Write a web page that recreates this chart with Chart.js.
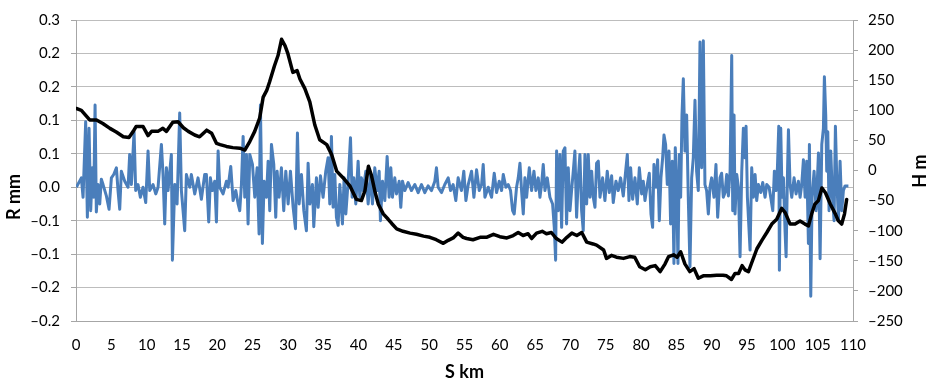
<!DOCTYPE html>
<html>
<head>
<meta charset="utf-8">
<script src="https://cdn.jsdelivr.net/npm/chart.js@4.4.1/dist/chart.umd.min.js"></script>
<style>
    html, body { margin: 0; padding: 0; background: #fff; }
    #wrap { width: 932px; height: 386px; }
</style>
</head>
<body>
<div id="wrap"><canvas id="chart" width="932" height="386"></canvas></div>
<script>
// R mm (blue)
var rKm = [
    0.05, 0.76, 1.00, 1.37, 1.61, 1.85, 2.08, 2.32, 2.51, 2.70, 2.88, 3.12, 3.36, 3.59, 3.83, 4.30, 4.68, 5.01, 5.34, 5.72,
    5.95, 6.19, 6.42, 6.90, 7.37, 7.60, 7.84, 8.22, 8.45, 8.78, 9.11, 9.49, 9.87, 10.20, 10.44, 10.91, 11.29, 11.62, 12.09, 12.32,
    12.56, 12.80, 13.03, 13.50, 13.65, 13.98, 14.31, 14.68, 14.92, 15.39, 15.63, 16.10, 16.33, 16.81, 17.28, 17.75, 18.22,
    18.46, 18.79, 19.03, 19.31, 19.64, 19.88, 20.12, 20.35, 20.82, 21.30, 21.53, 21.91, 22.24, 22.62, 22.95, 23.18, 23.42, 23.66,
    23.89, 24.13, 24.36, 24.60, 24.98, 25.31, 25.64, 25.92, 26.11, 26.39, 26.63, 26.96, 27.20, 27.43, 27.67, 28.00, 28.28, 28.47,
    28.75, 29.08, 29.41, 29.70, 30.03, 30.36, 30.74, 31.07, 31.35, 31.59, 31.92, 32.25, 32.62, 32.86, 33.10, 33.47, 33.66, 34.04,
    34.28, 34.61, 34.98, 35.36, 35.69, 35.93, 36.16, 36.40,
    36.64, 36.87, 37.11, 37.35, 37.72, 37.96, 38.20, 38.53, 38.86, 39.09, 39.33, 39.61, 39.94, 40.18, 40.41, 40.65, 41.03, 41.36,
    41.69, 41.97, 42.30, 42.63, 42.92, 43.10, 43.39, 43.72, 44.05, 44.33, 44.57, 44.80, 45.13, 45.37, 45.75, 45.98, 46.22, 46.55,
    47.02, 47.49, 47.97, 48.44, 48.91, 49.38, 49.85, 50.33, 50.80, 51.03, 51.27, 51.74, 52.21, 52.69, 53.02, 53.39, 53.77, 54.10,
    54.57, 54.90,
    55.20, 55.53, 56.00, 56.33, 56.71, 57.09, 57.42, 57.65, 57.89, 58.36, 58.83, 59.21, 59.54, 59.92, 60.25, 60.49, 60.86, 61.19,
    61.52, 61.81, 62.04, 62.37, 62.61, 62.85, 63.08, 63.32, 63.55, 63.79, 64.17, 64.50, 64.83, 65.11, 65.44, 65.68, 65.91, 66.15,
    66.39, 66.72, 67.09, 67.47, 67.71, 67.90, 68.04, 68.27, 68.51, 68.75, 68.98, 69.22, 69.45, 69.69, 69.93, 70.16, 70.40, 70.63,
    70.87, 71.11, 71.34, 71.58, 71.81, 72.05, 72.29, 72.52, 72.76, 73.00, 73.23,
    73.47, 73.70, 73.94, 74.18, 74.55, 74.88, 75.21, 75.50, 75.83, 76.06, 76.44, 76.77, 77.10, 77.48, 77.86, 78.05, 78.28, 78.52,
    78.80, 79.13, 79.46, 79.75, 80.08, 80.31, 80.55, 80.88, 81.16, 81.40, 81.63, 81.82, 82.11, 82.34, 82.58, 82.81, 83.05, 83.24,
    83.47, 83.71, 83.95, 84.18, 84.42, 84.65, 84.84, 85.03, 85.22, 85.41, 85.60, 85.79, 85.98, 86.21, 86.45, 86.68, 86.92, 87.16,
    87.39, 87.63, 87.86, 88.10, 88.34, 88.57, 88.81, 89.04, 89.28, 89.52, 89.75, 89.99, 90.32, 90.60, 90.84, 91.17, 91.40, 91.64,
    91.89, 92.12, 92.36, 92.60, 92.83, 92.97, 93.16, 93.30, 93.54, 93.78, 94.01, 94.25, 94.48, 94.72, 94.86, 95.05, 95.24, 95.43,
    95.66, 95.90, 96.14, 96.37, 96.61, 96.94, 97.22, 97.55, 97.79, 98.12, 98.35, 98.64, 98.87, 99.11, 99.30, 99.49, 99.58, 99.77,
    99.96, 100.15, 100.38, 100.53, 100.71, 100.86, 101.09, 101.33, 101.66, 101.94, 102.27, 102.51, 102.74, 102.98, 103.22, 103.45,
    103.69, 103.83, 104.02, 104.21, 104.49, 104.78, 105.11, 105.34, 105.58, 105.81, 105.95, 106.14, 106.28, 106.43, 106.61, 106.85,
    107.09, 107.32, 107.51, 107.70, 107.94, 108.17, 108.41, 108.64, 108.88, 109.35
];
var rVal = [
    0, 0.014, -0.015, 0.098, -0.045, 0.088, -0.035, 0.029, -0.015, 0.123, -0.037, 0.004, -0.025, 0.012, 0.004, -0.013, -0.033, 0.014, 0.019, 0.029,
    -0.005, -0.033, 0.024, 0.009, 0, 0.049, 0.004, 0.083, -0.005, 0.004, -0.015, 0, -0.023, 0.054, -0.005, 0.004, -0.010, 0, 0.064, 0.019,
    -0.055, 0.029, -0.005, 0.049, -0.109, 0.004, -0.025, 0.111, -0.005, -0.065, 0.019, 0, 0.019, -0.010, 0.014, -0.018, 0.019,
    0.019, -0.052, 0.014, -0.005, 0.009, -0.052, 0.054, 0, -0.010, 0.009, 0, 0.031, -0.020, -0.005, -0.025, -0.035, 0.004, 0.076,
    -0.015, 0.049, -0.055, 0.049, 0.034, -0.015, 0.029, -0.070, 0.123, -0.084, 0.009, -0.015, 0.039, -0.035, 0.064, 0.034, -0.045, 0.024,
    -0.015, 0.029, -0.035, 0.024, -0.025, 0.024, -0.030, -0.062, 0.081, -0.025, 0.019, -0.035, -0.065, 0.036, -0.025, 0.004, -0.059, 0.014,
    -0.030, 0.017, -0.015, 0.024, 0.044, -0.025, 0.076, -0.030,
    0.019, -0.045, -0.057, 0.004, -0.055, 0.014, -0.040, 0.009, 0.074, -0.015, 0.014, -0.025, 0.039, -0.015, 0.014, -0.005, 0.024, -0.025,
    0.019, -0.025, 0.029, -0.005, 0.024, -0.050, 0.009, -0.020, 0.046, -0.015, 0.029, -0.015, 0.014, -0.010, 0.009, -0.030, 0.009, -0.005,
    0.007, -0.005, 0.004, -0.008, 0.004, -0.008, 0.002, -0.005, 0.009, 0.029, 0, -0.008, 0.004, 0.014, -0.005, 0.004, -0.020, 0.014,
    -0.005, 0.024,
    -0.020, 0.004, 0.024, -0.015, 0.026, -0.005, 0.004, 0.034, -0.015, 0, -0.015, 0.021, -0.008, 0.009, -0.005, 0.019, 0, 0.004,
    -0.005, -0.035, -0.040, 0, 0.014, 0.036, -0.005, -0.040, 0.014, -0.015, 0.029, -0.005, 0.024, -0.005, 0.014, -0.015, 0.004, 0.034,
    -0.005, 0.014, -0.015, -0.025, -0.060, -0.109, 0.054, -0.035, 0.049, -0.060, 0.054, 0.059, -0.055, 0.029, -0.035, -0.005, 0.024, 0.054,
    -0.045, 0.014, 0.049, -0.035, -0.065, 0.049, -0.025, 0.049, -0.015, 0.024, -0.015,
    -0.030, 0.036, 0.039, -0.015, 0.014, -0.020, 0.024, -0.008, 0.017, -0.023, 0.009, -0.005, 0.014, -0.013, 0.029, 0.049, -0.020, 0.029,
    -0.018, 0.014, -0.025, 0.029, -0.010, 0.009, -0.020, 0.004, 0.021, -0.040, -0.060, 0.034, 0, 0.041, -0.050, 0.014, 0.044, 0.078,
    0.064, 0.004, 0.054, -0.055, 0.039, -0.114, 0.059, 0.004, -0.114, 0.049, -0.015, 0.108, 0.162, 0.054, 0.108, -0.015, -0.119, 0.014,
    0.044, 0.130, 0.024, -0.005, 0.217, 0.029, 0.219, 0.004, -0.005, -0.040, 0, 0.014, -0.015, 0.034, -0.045, 0.014, 0.021, -0.015,
    -0.008, 0.019, -0.013, 0.024, 0.197, -0.035, 0.108, -0.040, 0.019, 0, -0.104, 0.024, 0.088, 0.044, 0.091, -0.015, -0.055, -0.094,
    0.029, -0.015, 0.019, -0.020, 0.004, -0.008, 0.007, -0.015, 0.004, 0, -0.015, -0.035, 0.024, -0.005, 0.029, 0.091, -0.124, 0.088,
    -0.015, 0.014, -0.065, -0.104, 0.014, 0.086, 0.004, -0.015, 0.014, -0.010, 0.009, -0.015, 0.004, 0.041, -0.015, 0.039,
    -0.084, 0.064, -0.163, -0.015, 0.024, -0.035, 0.051, -0.107, 0.064, 0.088, 0.165, 0.108, 0.024, 0.083, -0.035, 0.054,
    -0.015, -0.050, 0.091, 0.014, -0.050, 0.039, -0.035, -0.005, 0.002, 0.002
];

// H m (black)
var hKm = [
    0.05, 0.76, 1.94, 2.9, 3.8, 4.8, 5.7, 6.7, 7.5, 8.1, 8.5, 9.5, 10.2, 10.7, 11.6, 12.3, 12.8, 13.7, 14.45, 15.2, 15.9, 16.8, 17.5,
    18.5, 19.2, 19.9, 20.4, 21.3, 22.2, 23.2, 23.9, 24.6, 25.3, 26.0, 26.5, 27.0, 27.4, 28.1, 28.6, 29.1, 29.6, 30.0, 30.7, 31.3,
    31.7, 32.4, 33.1, 33.8, 34.5, 35.5, 36.2, 36.9, 37.8, 38.8, 39.7, 40.4, 40.9, 41.4, 41.8, 42.3, 42.8, 43.5, 44.2, 44.7, 45.4,
    46.3, 47.3, 48.2, 49.2, 50.1, 51.0, 52.0, 52.7, 53.4, 54.1, 54.8, 55.3, 56.2, 57.2, 58.1, 59.1, 60.0, 61.0, 61.9, 62.6, 63.3,
    64.0, 64.5, 65.2, 66.0, 66.6, 67.3, 68.0, 68.8, 69.5, 70.2, 70.9, 71.6, 72.3, 73.2, 73.7, 74.7, 75.1, 75.8, 76.5, 77.5, 78.4,
    79.1, 79.8, 80.6, 81.3, 82.0, 82.7, 83.4, 83.9, 84.6, 85.1, 85.6, 86.2, 86.9, 87.5, 88.1, 88.8, 89.8, 90.7, 91.6, 92.1, 92.8,
    93.3, 93.8, 94.3, 94.7, 95.2, 95.7, 96.4, 97.1, 97.8, 98.5, 99.2, 99.9, 100.4, 101.1, 101.8, 102.5, 103.2, 103.7, 104.2, 104.6,
    105.1, 105.6, 106.1, 106.8, 107.5, 107.9, 108.4, 108.8, 109.1
];
var hVal = [
    103, 100, 84, 84, 78, 70, 64, 56, 55, 65, 73, 73, 58, 65, 65, 70, 65, 80, 81, 71, 65, 59, 56,
    67, 62, 45, 43, 40, 38, 37, 34, 48, 65, 87, 122, 133, 147, 174, 191, 218, 207, 194, 163, 166,
    152, 136, 114, 76, 51, 43, 26, -1, -12, -26, -48, -50, -34, 7, -7, -34, -56, -72, -81, -88, -97,
    -101, -104, -106, -109, -111, -115, -121, -116, -112, -104, -111, -113, -115, -111, -111, -106, -110, -112, -108, -103, -108,
    -105, -113, -104, -101, -105, -103, -113, -119, -111, -104, -108, -103, -119, -122, -124, -132, -146, -141, -144, -146, -143,
    -144, -160, -165, -160, -158, -168, -155, -143, -140, -144, -135, -155, -168, -163, -179, -175, -175, -174, -174, -175, -181,
    -171, -171, -158, -165, -168, -152, -130, -116, -103, -89, -81, -63, -70, -89, -89, -84, -89, -92, -70, -56,
    -50, -29, -37, -56, -72, -83, -89, -72, -48
];

// axes
var sRange = [0, 110, 5];
var rRange = [-0.2, 0.25, 0.05];
var hRange = [-250, 250, 50];

var DASH = '\u2013';

function toPoints(xs, ys) {
    return xs.map(function(x, i) { return {x: x, y: ys[i]}; });
}

function formatR(v) {
    var a = Math.round(Math.abs(v) * 10 + 1e-7) / 10;
    if (a === 0) {
        return '0.0';
    }
    return (v < 0 ? DASH : '') + a.toFixed(1);
}

function formatH(v) {
    return v < 0 ? DASH + Math.abs(v) : String(v);
}

// rotated titles, both reading bottom to top like the original
var sideTitles = {
    id: 'sideTitles',
    afterDraw: function(chart) {
        var ctx = chart.ctx;
        [['R mm', 14, 197], ['H m', 920, 171]].forEach(function(t) {
            ctx.save();
            ctx.font = 'bold 18px Lato';
            ctx.fillStyle = '#000';
            ctx.textAlign = 'center';
            ctx.textBaseline = 'middle';
            ctx.translate(t[1], t[2]);
            ctx.rotate(-Math.PI / 2);
            ctx.fillText(t[0], 0, 0);
            ctx.restore();
        });
    }
};

var gridColor = '#bdbdbd';
var axisColor = '#a6a6a6';

Chart.defaults.font.family = 'Lato';
Chart.defaults.font.size = 15;
Chart.defaults.color = '#000';

new Chart(document.getElementById('chart').getContext('2d'), {
    type: 'line',
    data: {
        datasets: [{
            label: 'H m',
            data: toPoints(hKm, hVal),
            yAxisID: 'y2',
            borderColor: '#000',
            borderWidth: 3.5,
            pointRadius: 0,
            tension: 0,
            borderJoinStyle: 'round',
            borderCapStyle: 'round',
            order: 1
        }, {
            label: 'R mm',
            data: toPoints(rKm, rVal),
            yAxisID: 'y',
            borderColor: '#4a7ebb',
            borderWidth: 3,
            pointRadius: 0,
            tension: 0,
            borderJoinStyle: 'round',
            order: 2
        }]
    },
    options: {
        responsive: false,
        devicePixelRatio: 1,
        animation: false,
        layout: { padding: { top: 17, left: 0, right: 0, bottom: 0 } },
        plugins: {
            legend: { display: false },
            tooltip: { enabled: false }
        },
        scales: {
            x: {
                type: 'linear',
                min: sRange[0],
                max: sRange[1],
                ticks: { stepSize: sRange[2], padding: 15, maxRotation: 0 },
                grid: { display: true, drawOnChartArea: false, drawTicks: false, color: axisColor },
                border: { display: true, color: axisColor, width: 1 },
                title: {
                    display: true,
                    text: 'S km',
                    font: { size: 18, weight: 'bold' },
                    padding: { top: 0, bottom: 3 }
                },
                afterFit: function(scale) { scale.height = 65; }
            },
            y: {
                type: 'linear',
                position: 'left',
                min: rRange[0],
                max: rRange[1],
                ticks: { stepSize: rRange[2], padding: 11, callback: formatR },
                grid: { color: gridColor, tickLength: 5, tickColor: axisColor },
                border: { display: true, color: axisColor, width: 1 },
                afterFit: function(scale) { scale.width = 76; }
            },
            y2: {
                type: 'linear',
                position: 'right',
                min: hRange[0],
                max: hRange[1],
                ticks: { stepSize: hRange[2], padding: 10, callback: formatH },
                grid: { drawOnChartArea: false, tickLength: 5, color: axisColor },
                border: { display: true, color: axisColor, width: 1 },
                afterFit: function(scale) { scale.width = 79; }
            }
        }
    },
    plugins: [sideTitles]
});
</script>
</body>
</html>
